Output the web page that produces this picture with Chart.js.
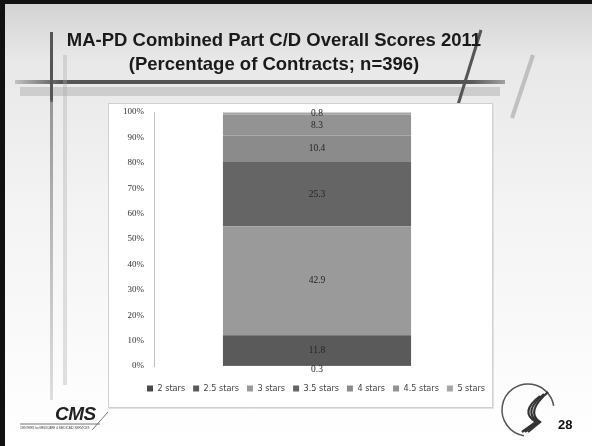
<!DOCTYPE html>
<html>
<head>
<meta charset="utf-8">
<script src="https://cdn.jsdelivr.net/npm/chart.js@4"></script>
<style>
  html, body { margin:0; padding:0; }
  body { width:592px; height:446px; position:relative; overflow:hidden;
         background: linear-gradient(to bottom, #d2d2d2 0px, #e8e8e8 60px, #f3f3f3 200px, #ffffff 446px); }
  #deco { position:absolute; left:0; top:0; }
  .title { position:absolute; left:0; width:548px; text-align:center; font-family:"Liberation Sans", Arial, sans-serif;
           font-weight:bold; font-size:18.5px; color:#1a1a1a; }
  #panel { position:absolute; left:108px; top:103px; width:385px; height:305px; background:#fff;
           border:1px solid #d0d0d0; box-sizing:border-box; box-shadow: 1px 1px 0 #e2e2e2; }
  #wrap { position:absolute; left:108px; top:103px; width:384px; height:305px; }
  .cms { position:absolute; left:55px; top:403px; font-family:"Liberation Sans", Arial, sans-serif; font-style:italic;
         font-weight:900; font-size:19px; color:#222; letter-spacing:-0.5px; }
  .cmssub { position:absolute; left:20px; top:426px; font-family:"Liberation Sans", Arial, sans-serif; font-size:3px; color:#444; }
  .pg { position:absolute; left:558px; top:417px; font-family:"Liberation Sans", Arial, sans-serif; font-weight:bold; font-size:13px; color:#111; }
</style>
</head>
<body>
<canvas id="deco" width="592" height="446"></canvas>
<div class="title" style="top:29px;">MA-PD Combined Part C/D Overall Scores 2011</div>
<div class="title" style="top:53px;">(Percentage of Contracts; n=396)</div>
<div id="panel"></div>
<div id="wrap"><canvas id="c"></canvas></div>
<div class="cms">CMS</div>
<div class="cmssub">CENTERS for MEDICARE &amp; MEDICAID SERVICES</div>
<div class="pg">28</div>
<script>
// ---- data ----
const categories = ["MA-PD"];
const seriesNames = ["2 stars", "2.5 stars", "3 stars", "3.5 stars", "4 stars", "4.5 stars", "5 stars"];
const seriesValues = [0.3, 11.8, 42.9, 25.3, 10.4, 8.3, 0.8];
const seriesColors = ["#4a4a4a", "#5a5a5a", "#9a9a9a", "#656565", "#8b8b8b", "#939393", "#a6a6a6"];
const yTicks = [0, 10, 20, 30, 40, 50, 60, 70, 80, 90, 100];

// ---- decoration ----
(function(){
  const d = document.getElementById('deco').getContext('2d');
  d.fillStyle = '#111';
  d.fillRect(0, 0, 592, 4);
  d.fillRect(0, 0, 5, 446);
  d.fillStyle = 'rgba(150,150,150,0.35)';
  d.fillRect(20, 87, 480, 9);
  const g = d.createLinearGradient(10,0,520,0);
  g.addColorStop(0,'rgba(90,90,90,0.2)'); g.addColorStop(0.1,'#555'); g.addColorStop(0.9,'#555'); g.addColorStop(1,'rgba(90,90,90,0.3)');
  d.fillStyle = g;
  d.fillRect(15, 80, 490, 4);
  d.fillStyle = '#555';
  d.fillRect(50, 32, 3, 70);
  const gv = d.createLinearGradient(0,100,0,400);
  gv.addColorStop(0,'rgba(110,110,110,0.7)'); gv.addColorStop(1,'rgba(150,150,150,0.3)');
  d.fillStyle = gv;
  d.fillRect(50, 100, 3, 300);
  d.fillStyle = 'rgba(170,170,170,0.35)';
  d.fillRect(63, 55, 4, 330);
  d.strokeStyle = '#555'; d.lineWidth = 3;
  d.beginPath(); d.moveTo(481, 30); d.lineTo(457, 108); d.stroke();
  d.strokeStyle = 'rgba(140,140,140,0.45)'; d.lineWidth = 4;
  d.beginPath(); d.moveTo(533, 55); d.lineTo(512, 118); d.stroke();
  d.strokeStyle = '#777'; d.lineWidth = 1;
  d.beginPath(); d.moveTo(20,424); d.lineTo(100,424); d.stroke();
  d.beginPath(); d.moveTo(92,430); d.lineTo(108,412); d.stroke();
  d.strokeStyle = '#555'; d.lineWidth = 1.5;
  d.beginPath(); d.arc(528, 410, 26, Math.PI*0.55, Math.PI*1.95); d.stroke();
  d.lineWidth = 2.2; d.strokeStyle = '#333';
  for (let i=0;i<3;i++){
    d.beginPath();
    d.moveTo(548 - i*4, 392 + i*2);
    d.quadraticCurveTo(525 - i*3, 412, 540 - i*2, 422);
    d.lineTo(528 - i*3, 432);
    d.stroke();
  }
})();

// ---- chart ----
const datasets = seriesNames.map((n, i) => ({
  label: n,
  data: [seriesValues[i]],
  backgroundColor: seriesColors[i],
  borderWidth: 0,
  barPercentage: 0.577,
  categoryPercentage: 1.0
}));

const valueLabels = {
  id: 'valueLabels',
  afterDatasetsDraw(chart) {
    const ctx = chart.ctx;
    ctx.save();
    ctx.font = '9.5px "Liberation Serif", "DejaVu Serif", serif';
    ctx.fillStyle = '#262626';
    ctx.textAlign = 'center';
    ctx.textBaseline = 'middle';
    chart.data.datasets.forEach((ds, i) => {
      const meta = chart.getDatasetMeta(i);
      meta.data.forEach((bar, j) => {
        const v = ds.data[j];
        let y = (bar.y + bar.base) / 2;
        if (v < 1) y = (i === 0) ? bar.base + 3 : bar.y + 1;
        ctx.fillText(v.toFixed(1), bar.x, y);
      });
    });
    ctx.restore();
  }
};

// shift the legend to the reference's place
const legendShift = {
  id: 'legendShift',
  afterLayout(chart) {
    const L = chart.legend;
    if (!L) return;
    L.left += 22; L.right += 22;
    L.top += 10; L.bottom += 10;
  }
};

new Chart(document.getElementById('c'), {
  type: 'bar',
  data: { labels: categories, datasets },
  plugins: [valueLabels, legendShift],
  options: {
    responsive: true,
    maintainAspectRatio: false,
    animation: false,
    layout: { autoPadding: false, padding: { left: 0, right: 12, top: 9, bottom: 15 } },
    plugins: {
      legend: {
        position: 'bottom',
        labels: {
          boxWidth: 6, boxHeight: 6, padding: 8,
          color: '#444',
          font: { size: 9, family: '"DejaVu Sans Condensed", "Liberation Sans Narrow", "Liberation Sans", sans-serif' }
        }
      },
      tooltip: { enabled: false }
    },
    scales: {
      x: { stacked: true, display: false },
      y: {
        stacked: true, min: 0, max: 100,
        afterFit(s) { s.width = 46; s.paddingTop = 0; s.paddingBottom = 0; },
        afterBuildTicks(s) { s.ticks = yTicks.map(v => ({ value: v })); },
        grid: { display: false, drawTicks: false },
        border: { display: true, color: '#c0c0c0', width: 1 },
        ticks: {
          padding: 10,
          color: '#333',
          font: { size: 9, family: '"Liberation Serif", "DejaVu Serif", serif' },
          callback: v => v + '%'
        }
      }
    }
  }
});
</script>
</body>
</html>
